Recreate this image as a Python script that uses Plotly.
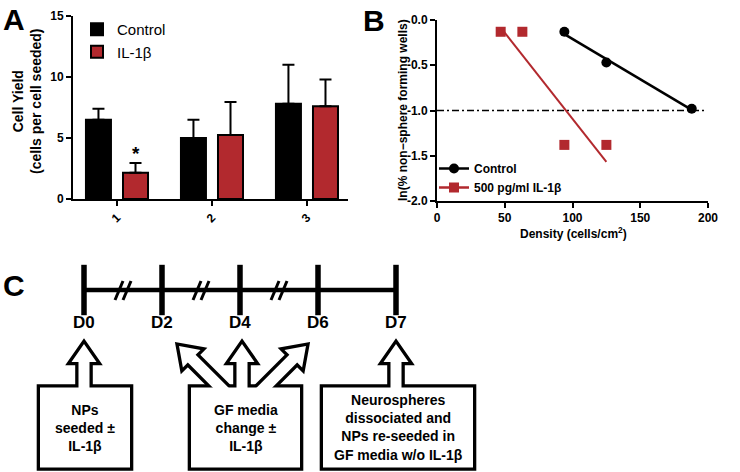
import numpy as np
import plotly.graph_objects as go

# ---------------- data ----------------
# Panel A: cell yield
groups = ["1", "2", "3"]
control_mean = [6.5, 5.0, 7.8]
control_sem = [0.9, 1.5, 3.2]
il1b_mean = [2.15, 5.25, 7.6]
il1b_sem = [0.8, 2.7, 2.2]
significance = ["*", "", ""]
a_yticks = [0, 5, 10, 15]

# Panel B: limiting dilution
ctrl_density = [94, 125, 188]
ctrl_ln = [-0.13, -0.47, -0.98]
il1b_density = [47, 63, 94, 125]
il1b_ln = [-0.13, -0.13, -1.38, -1.38]
cutoff_ln = -1.0
b_xticks = [0, 50, 100, 150, 200]
b_yticks = [0.0, -0.5, -1.0, -1.5, -2.0]
b_yticklabels = ["0.0", "-0.5", "-1.0", "-1.5", "-2.0"]

# Panel C: timeline
days = ["D0", "D2", "D4", "D6", "D7"]
break_after = ["D0", "D2", "D4"]
step_texts = ["NPs<br>seeded ±<br>IL-1β",
              "GF media<br>change ±<br>IL-1β",
              "Neurospheres<br>dissociated and<br>NPs re-seeded in<br>GF media w/o IL-1β"]
step_targets = [["D0"], ["D2", "D4", "D6"], ["D7"]]

# ---------------- styling / geometry ----------------
W, H = 740, 472
FONT = "Liberation Sans, Arial, Helvetica, sans-serif"
RED = "#B2292E"
BLACK = "#000000"


def fx(p):
    return p / W


def fy(p):
    return 1 - p / H


fig = go.Figure()

# ---- Panel A bars ----
bargap, bargroupgap = 0.22, 0.325
fig.add_trace(go.Bar(
    x=groups, y=control_mean, name="Control", xaxis="x", yaxis="y", legend="legend",
    marker=dict(color=BLACK, line=dict(color=BLACK, width=2)),
    error_y=dict(type="data", symmetric=False, array=control_sem,
                 arrayminus=[0] * len(control_sem), color=BLACK, thickness=2, width=6)))
fig.add_trace(go.Bar(
    x=groups, y=il1b_mean, name="IL-1β", xaxis="x", yaxis="y", legend="legend",
    marker=dict(color=RED, line=dict(color=BLACK, width=2)),
    error_y=dict(type="data", symmetric=False, array=il1b_sem,
                 arrayminus=[0] * len(il1b_sem), color=BLACK, thickness=2, width=6)))

annotations = []
slot = (1 - bargap) / 2
for i, s in enumerate(significance):
    if s:
        annotations.append(dict(x=i + slot / 2, y=il1b_mean[i] + il1b_sem[i], xref="x", yref="y",
                                text=f"<b>{s}</b>", showarrow=False, xanchor="center", yanchor="bottom",
                                yshift=-3, font=dict(size=19, color=BLACK)))

# ---- Panel B ----
fig.add_trace(go.Scatter(x=ctrl_density, y=ctrl_ln, mode="markers", xaxis="x2", yaxis="y2",
                         marker=dict(symbol="circle", size=10, color=BLACK), showlegend=False))
fig.add_trace(go.Scatter(x=il1b_density, y=il1b_ln, mode="markers", xaxis="x2", yaxis="y2",
                         marker=dict(symbol="square", size=10, color=RED), showlegend=False))
for xs, ys, col, lw in [(ctrl_density, ctrl_ln, BLACK, 2.5), (il1b_density, il1b_ln, RED, 2)]:
    k, b = np.polyfit(xs, ys, 1)
    xl = np.array([min(xs), max(xs)], dtype=float)
    fig.add_trace(go.Scatter(x=xl, y=k * xl + b, mode="lines", xaxis="x2", yaxis="y2",
                             line=dict(color=col, width=lw), showlegend=False))
fig.add_trace(go.Scatter(x=[None], y=[None], mode="lines+markers", name="Control",
                         xaxis="x2", yaxis="y2", legend="legend2",
                         line=dict(color=BLACK, width=2.5), marker=dict(symbol="circle", size=10, color=BLACK)))
fig.add_trace(go.Scatter(x=[None], y=[None], mode="lines+markers", name="500 pg/ml IL-1β",
                         xaxis="x2", yaxis="y2", legend="legend2",
                         line=dict(color=RED, width=2.5), marker=dict(symbol="square", size=10, color=RED)))

shapes = [dict(type="line", xref="x2 domain", yref="y2", x0=0, x1=0.995, y0=cutoff_ln, y1=cutoff_ln,
               line=dict(color=BLACK, width=1.5, dash="7px,3px,2px,3px"), layer="below")]

# ---- Panel C (x3 in day-index units, y3 in pixels from top) ----
X0, STEP = 84, 78
TL_Y = 290


def cx(p):
    return (p - X0) / STEP


day_idx = list(range(len(days)))
fig.add_trace(go.Scatter(x=day_idx, y=[TL_Y] * len(days), mode="lines+markers", xaxis="x3", yaxis="y3",
                         line=dict(color=BLACK, width=4.5),
                         marker=dict(symbol="line-ns", size=36, line=dict(color=BLACK, width=5.5)),
                         showlegend=False, hoverinfo="skip"))
for i, d in enumerate(days):
    annotations.append(dict(x=i, y=322, xref="x3", yref="y3", text=f"<b>{d}</b>", showarrow=False,
                            xanchor="center", yanchor="middle", font=dict(size=17, color=BLACK)))
for d in break_after:
    m = days.index(d) + 0.5
    for off in (-4, 4):
        c = m + off / STEP
        shapes.append(dict(type="line", xref="x3", yref="y3", x0=c - 4 / STEP, x1=c + 4 / STEP,
                           y0=300, y1=281, line=dict(color=BLACK, width=3)))

box_x = [(40, 130), (191, 300), (323, 473)]
box_y = (387.5, 467.5)
arrows = [[(84, 0, 51)], [(228, -45, 69.3), (242, 0, 51), (257, 45, 69.3)], [(396, 0, 51)]]
BASE_Y = 395


def arrow_path(bx, ang, length, head_len=18, head_half=12.5, shaft_half=5.5):
    a = np.radians(ang)
    ux, uy = np.sin(a), -np.cos(a)
    nx, ny = -uy, ux
    by = BASE_Y
    hx, hy = bx + ux * (length - head_len), by + uy * (length - head_len)
    pts = [(bx - nx * shaft_half, by - ny * shaft_half),
           (hx - nx * shaft_half, hy - ny * shaft_half),
           (hx - nx * head_half, hy - ny * head_half),
           (bx + ux * length, by + uy * length),
           (hx + nx * head_half, hy + ny * head_half),
           (hx + nx * shaft_half, hy + ny * shaft_half),
           (bx + nx * shaft_half, by + ny * shaft_half)]
    return "M " + " L ".join(f"{cx(px):.4f},{py:.2f}" for px, py in pts) + " Z"


outline, fills = [], []
for (x0, x1), arr in zip(box_x, arrows):
    for kind, lst in (("o", outline), ("f", fills)):
        ln = dict(color=BLACK, width=6.6) if kind == "o" else dict(width=0)
        fc = BLACK if kind == "o" else "white"
        lst.append(dict(type="rect", xref="x3", yref="y3", x0=cx(x0), x1=cx(x1), y0=box_y[0], y1=box_y[1],
                        line=ln, fillcolor=fc))
        for bx, ang, L in arr:
            lst.append(dict(type="path", xref="x3", yref="y3", path=arrow_path(bx, ang, L),
                            line=ln, fillcolor=fc))
shapes += outline + fills

for (x0, x1), t in zip(box_x, step_texts):
    annotations.append(dict(x=cx((x0 + x1) / 2), y=(box_y[0] + box_y[1]) / 2, xref="x3", yref="y3",
                            text=f"<b>{t}</b>", showarrow=False, align="center",
                            xanchor="center", yanchor="middle", font=dict(size=14, color=BLACK)))

# ---- titles & panel letters ----
def paper_text(x, y, text, size, angle=0):
    return dict(x=fx(x), y=fy(y), xref="paper", yref="paper", text=text, textangle=angle,
                showarrow=False, xanchor="center", yanchor="middle", font=dict(size=size, color=BLACK))


annotations += [
    paper_text(27, 101, "<b>Cell Yield<br>(cells per cell seeded)</b>", 14, -90),
    paper_text(403, 110, "<b>ln(% non−sphere forming wells)</b>", 12, -90),
    paper_text(573, 233, "<b>Density (cells/cm<sup>2</sup>)</b>", 12),
    paper_text(14, 19, "<b>A</b>", 30),
    paper_text(374, 21, "<b>B</b>", 30),
    paper_text(14, 285, "<b>C</b>", 30),
]

axis_common = dict(showline=True, linewidth=2, linecolor=BLACK, ticks="outside", ticklen=5, tickwidth=2,
                   tickcolor=BLACK, showgrid=False, zeroline=False, automargin=False,
                   tickfont=dict(size=12, color=BLACK, weight="bold"))

fig.update_layout(
    width=W, height=H, margin=dict(l=0, r=0, t=0, b=0, autoexpand=False),
    paper_bgcolor="white", plot_bgcolor="rgba(0,0,0,0)",
    font=dict(family=FONT, color=BLACK),
    barmode="group", bargap=bargap, bargroupgap=bargroupgap,
    xaxis=dict(domain=[fx(73), fx(348)], type="category", range=[-0.463, 2.432], anchor="y",
               tickangle=-45, **axis_common),
    yaxis=dict(domain=[fy(199), fy(16)], range=[0, 15], tickvals=a_yticks, anchor="x", **axis_common),
    xaxis2=dict(domain=[fx(437), fx(708)], range=[0, 200], tickvals=b_xticks, anchor="y2", **axis_common),
    yaxis2=dict(domain=[fy(201), fy(20)], range=[-2, 0], tickvals=b_yticks, ticktext=b_yticklabels,
                anchor="x2", **axis_common),
    xaxis3=dict(domain=[0, 1], range=[cx(0), cx(W)], visible=False, anchor="y3", automargin=False),
    yaxis3=dict(domain=[0, 1], range=[H, 0], visible=False, anchor="x3", automargin=False),
    legend=dict(x=fx(77), y=fy(13), xanchor="left", yanchor="top", bgcolor="rgba(0,0,0,0)",
                font=dict(size=15, color=BLACK)),
    legend2=dict(x=fx(434), y=fy(154), xanchor="left", yanchor="top", bgcolor="rgba(0,0,0,0)",
                 font=dict(size=12, color=BLACK, weight="bold")),
    shapes=shapes, annotations=annotations, showlegend=True,
)

fig.write_html("out.html", config={"displayModeBar": False},
               post_script="document.body.style.margin='0';document.body.style.padding='0';")
